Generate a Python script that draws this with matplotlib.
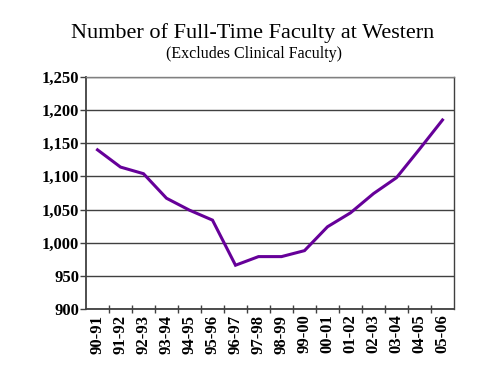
import matplotlib
matplotlib.use("Agg")
import matplotlib.pyplot as plt
from matplotlib.ticker import FuncFormatter, FixedLocator

years = ["90-91", "91-92", "92-93", "93-94", "94-95", "95-96", "96-97", "97-98",
         "98-99", "99-00", "00-01", "01-02", "02-03", "03-04", "04-05", "05-06"]
faculty = [1140, 1114, 1104, 1067, 1049, 1034, 966, 979, 979, 988, 1024, 1045,
           1074, 1098, 1141, 1185]
yticks = [900, 950, 1000, 1050, 1100, 1150, 1200, 1250]

plt.rcParams['font.family'] = ['Liberation Serif', 'DejaVu Serif']

fig = plt.figure(figsize=(5, 3.75), dpi=100)
ax = fig.add_axes([0.172, 0.176, 0.736, 0.619])

x = list(range(len(years)))
ax.plot(x, faculty, color='#660099', linewidth=2.2, solid_joinstyle='miter')

ax.set_xlim(-0.5, len(years) - 0.5)
ax.set_ylim(900, 1250)
ax.set_yticks(yticks)
ax.yaxis.set_major_formatter(FuncFormatter(lambda v, p: f"{int(v):,}"))
ax.grid(axis='y', color='#404040', linewidth=1.0)
ax.set_axisbelow(True)

ax.set_xticks(x)
ax.set_xticklabels(years, rotation=90, fontsize=12, fontweight='bold')
ax.tick_params(axis='x', which='major', length=0, pad=4)
ax.xaxis.set_minor_locator(FixedLocator([i + 0.5 for i in range(len(years) - 1)]))
ax.tick_params(axis='x', which='minor', length=6, direction='inout', width=1, color='#404040')
ax.tick_params(axis='y', labelsize=12, length=4, width=1, color='#404040', pad=1)
for lab in ax.get_yticklabels():
    lab.set_fontweight('bold')

for s in ['left', 'bottom']:
    ax.spines[s].set_color('#404040')
    ax.spines[s].set_linewidth(1.3)
ax.spines['right'].set_color('#404040')
ax.spines['right'].set_linewidth(1.0)
ax.spines['top'].set_color('#808080')
ax.spines['top'].set_linewidth(1.0)

fig.text(0.505, 0.912, "Number of Full-Time Faculty at Western", ha='center', va='center', fontsize=16)
fig.text(0.507, 0.857, "(Excludes Clinical Faculty)", ha='center', va='center', fontsize=11.5)

fig.savefig("out.png", dpi=100)
